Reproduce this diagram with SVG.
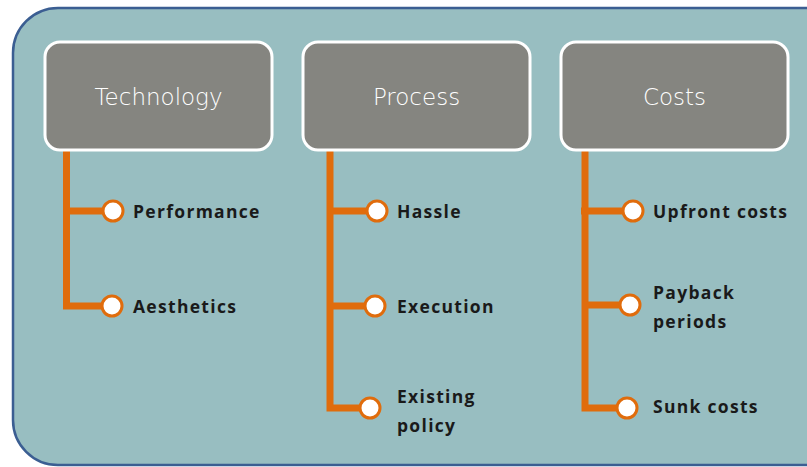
<svg xmlns="http://www.w3.org/2000/svg" width="807" height="467" viewBox="0 0 807 467">
  <style>
    .head rect { fill: #858580; stroke: #ffffff; stroke-width: 3; }
    .head text { fill: #ffffff; font-family: "DejaVu Sans", "Liberation Sans", sans-serif; font-size: 23px; font-weight: 300; text-anchor: middle; }
    .bar { stroke: #e06c0c; stroke-width: 7; fill: none; }
    .dot { fill: #ffffff; stroke: #e06c0c; stroke-width: 3; }
    .item { fill: #1a1a1a; font-family: "Open Sans", "Liberation Sans", sans-serif; font-size: 17.5px; font-weight: bold; letter-spacing: 1.3px; }
  </style>

  <!-- background panel -->
  <rect id="panel" x="13" y="8" width="840" height="457" rx="45" ry="45" fill="#98bec1" stroke="#3b5e92" stroke-width="2.5"/>

  <!-- orange connector trees -->
  <g id="connectors">
    <path class="bar" d="M66.5 151 V306 H103 M66.5 211 H103"/>
    <path class="bar" d="M330 151 V408 H360 M330 211 H367 M330 306 H365"/>
    <path class="bar" d="M585 151 V408 H617 M581 211 H623 M585 305 H620"/>
  </g>

  <!-- header boxes -->
  <g id="technology" class="head">
    <rect x="45" y="42" width="227" height="108" rx="15" ry="15"/>
    <text x="158.5" y="105">Technology</text>
  </g>
  <g id="process" class="head">
    <rect x="303" y="42" width="227" height="108" rx="15" ry="15"/>
    <text x="416.5" y="105">Process</text>
  </g>
  <g id="costs" class="head">
    <rect x="561" y="42" width="227" height="108" rx="15" ry="15"/>
    <text x="674.5" y="105">Costs</text>
  </g>

  <!-- Technology items -->
  <g id="performance">
    <circle class="dot" cx="113" cy="211" r="10"/>
    <text class="item" x="133" y="218">Performance</text>
  </g>
  <g id="aesthetics">
    <circle class="dot" cx="112" cy="306" r="10"/>
    <text class="item" x="133" y="313">Aesthetics</text>
  </g>

  <!-- Process items -->
  <g id="hassle">
    <circle class="dot" cx="377" cy="211" r="10"/>
    <text class="item" x="397" y="218">Hassle</text>
  </g>
  <g id="execution">
    <circle class="dot" cx="375" cy="306" r="10"/>
    <text class="item" x="397" y="313">Execution</text>
  </g>
  <g id="existing-policy">
    <circle class="dot" cx="370" cy="408" r="10"/>
    <text class="item" x="397" y="403">Existing</text>
    <text class="item" x="397" y="432">policy</text>
  </g>

  <!-- Costs items -->
  <g id="upfront-costs">
    <circle class="dot" cx="633" cy="211" r="10"/>
    <text class="item" x="653" y="218">Upfront costs</text>
  </g>
  <g id="payback-periods">
    <circle class="dot" cx="630" cy="305" r="10"/>
    <text class="item" x="653" y="299">Payback</text>
    <text class="item" x="653" y="328">periods</text>
  </g>
  <g id="sunk-costs">
    <circle class="dot" cx="627" cy="408" r="10"/>
    <text class="item" x="653" y="413">Sunk costs</text>
  </g>
</svg>
